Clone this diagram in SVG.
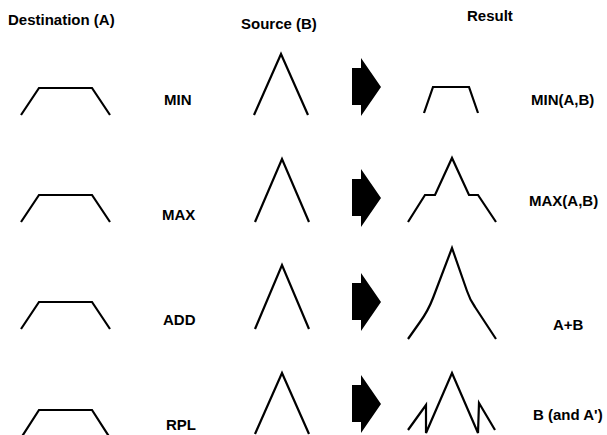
<svg xmlns="http://www.w3.org/2000/svg" width="607" height="435" viewBox="0 0 607 435">
<style>
.t{font-family:"Liberation Sans",Arial,sans-serif;font-size:15px;font-weight:bold;fill:#000}
.ln{fill:none;stroke:#000;stroke-width:2.2;stroke-linejoin:miter}
.ar{fill:#000}
</style>
<defs>
<polygon id="arrow" class="ar" points="352,-19 361,-19 361,-29 381,0 361,29 361,18 352,18"/>
</defs>
<rect width="607" height="435" fill="#fff"/>
<g id="headers">
<text class="t" x="8" y="25">Destination (A)</text>
<text class="t" x="241" y="29">Source (B)</text>
<text class="t" x="467" y="21">Result</text>
</g>
<g id="row-min">
<polyline class="ln" points="21,115 39,88 92,88 110,115"/>
<text class="t" x="164" y="105">MIN</text>
<polyline class="ln" points="254,115 281,54 308,115"/>
<use href="#arrow" y="87"/>
<polyline class="ln" points="424,113 433,87 469,87 478,113"/>
<text class="t" x="531" y="105">MIN(A,B)</text>
</g>
<g id="row-max">
<polyline class="ln" points="21,222 39,195 92,195 110,222"/>
<text class="t" x="162" y="220">MAX</text>
<polyline class="ln" points="255,222 282,159 309,222"/>
<use href="#arrow" y="198"/>
<polyline class="ln" points="408,222 425,195 435,195 452,158 469,195 478,195 496,222"/>
<text class="t" x="529" y="206">MAX(A,B)</text>
</g>
<g id="row-add">
<polyline class="ln" points="21,329 39,302 92,302 110,329"/>
<text class="t" x="163" y="325">ADD</text>
<polyline class="ln" points="255,329 282,265 309,329"/>
<use href="#arrow" y="302"/>
<path class="ln" d="M408,339 L420,322 Q428,311 433,298 L452,248 L467,291 Q470,300 475,307 L496,339"/>
<text class="t" x="553" y="330">A+B</text>
</g>
<g id="row-rpl">
<polyline class="ln" points="21,438 39,410 92,410 110,438"/>
<text class="t" x="166" y="430">RPL</text>
<polyline class="ln" points="255,434 282,373 309,434"/>
<use href="#arrow" y="404"/>
<polyline class="ln" points="408,430 426,405 426,433 452,373 478,433 479,403 495,430"/>
<text class="t" x="533" y="420">B (and A')</text>
</g>
<g id="connectors"></g>
</svg>
